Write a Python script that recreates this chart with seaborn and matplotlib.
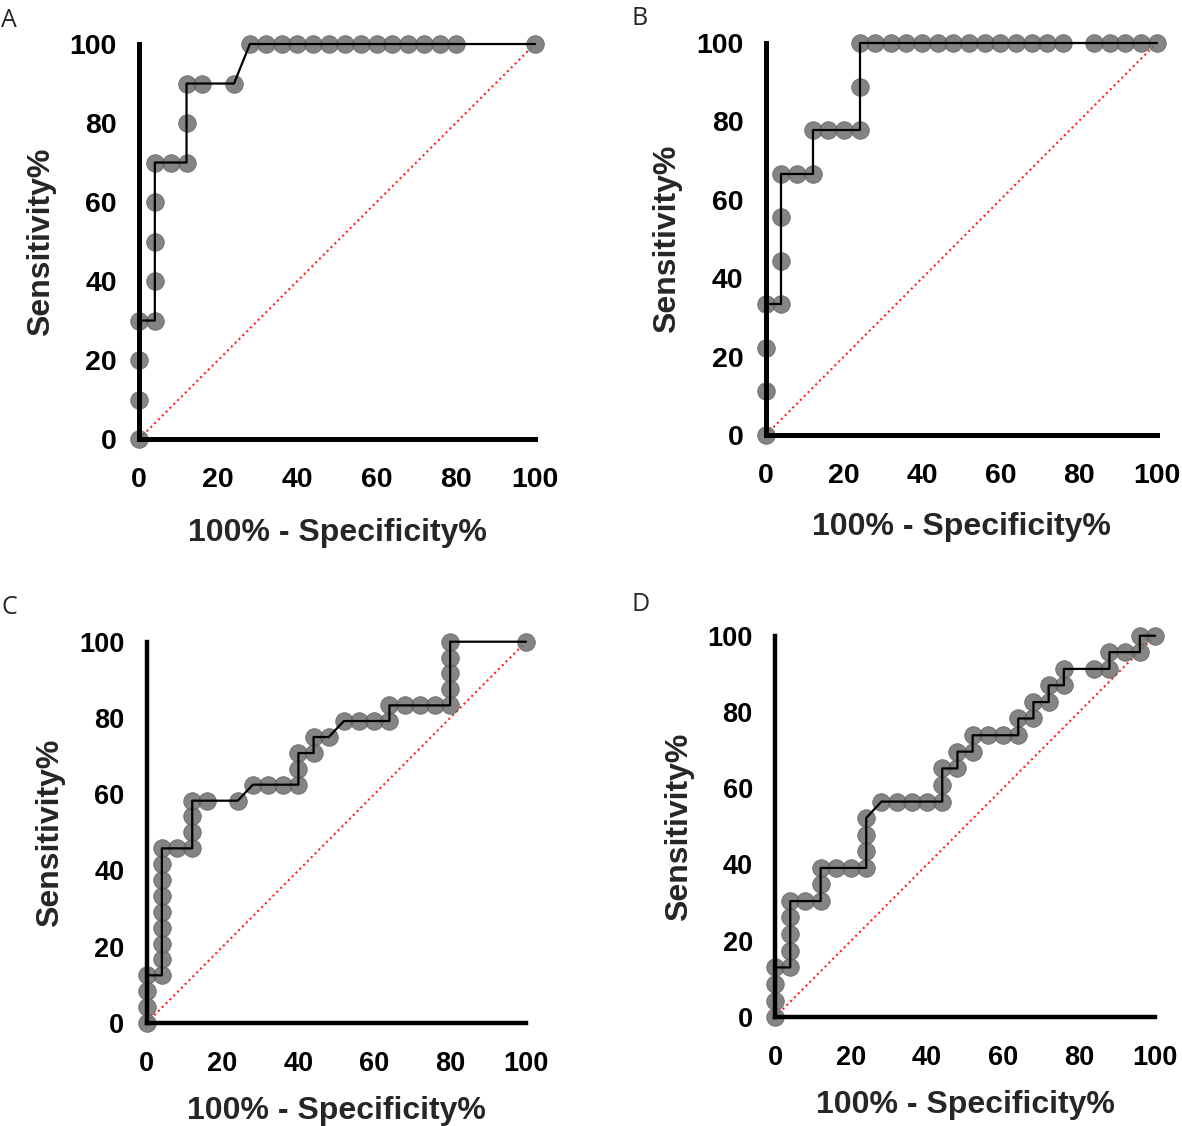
import numpy as np
import pandas as pd
import seaborn as sns
import matplotlib.pyplot as plt

sns.set_style("white")
plt.rcParams['font.family'] = ['Liberation Sans', 'DejaVu Sans']

# ROC points (100% - Specificity%, Sensitivity%)
a_x = [0, 0, 0, 0, 4, 4, 4, 4, 4, 8, 12, 12, 12, 16, 24,
       28, 32, 36, 40, 44, 48, 52, 56, 60, 64, 68, 72, 76, 80, 100]
a_y = [0, 10, 20, 30, 30, 40, 50, 60, 70, 70, 70, 80, 90, 90, 90,
       100, 100, 100, 100, 100, 100, 100, 100, 100, 100, 100, 100, 100, 100, 100]

b_x = [0, 0, 0, 0, 4, 4, 4, 4, 8, 12, 12, 16, 20, 24, 24, 24,
       28, 32, 36, 40, 44, 48, 52, 56, 60, 64, 68, 72, 76, 84, 88, 92, 96, 100]
b_y = [0, 11.1, 22.2, 33.3, 33.3, 44.4, 55.6, 66.7, 66.7, 66.7, 77.8, 77.8, 77.8, 77.8, 88.9, 100,
       100, 100, 100, 100, 100, 100, 100, 100, 100, 100, 100, 100, 100, 100, 100, 100, 100, 100]

c_x = [0, 0, 0, 0, 4, 4, 4, 4, 4, 4, 4, 4, 4, 8, 12, 12, 12, 12, 16, 24,
       28, 32, 36, 40, 40, 40, 44, 44, 48, 52, 56, 60, 64, 64, 68, 72, 76, 80,
       80, 80, 80, 80, 100]
c_y = [0, 4.2, 8.3, 12.5, 12.5, 16.7, 20.8, 25.0, 29.2, 33.3, 37.5, 41.7, 45.8, 45.8, 45.8, 50.0, 54.2, 58.3, 58.3, 58.3,
       62.5, 62.5, 62.5, 62.5, 66.7, 70.8, 70.8, 75.0, 75.0, 79.2, 79.2, 79.2, 79.2, 83.3, 83.3, 83.3, 83.3, 83.3,
       87.5, 91.7, 95.8, 100, 100]

d_x = [0, 0, 0, 0, 4, 4, 4, 4, 4, 8, 12, 12, 12, 16, 20, 24, 24, 24, 24,
       28, 32, 36, 40, 44, 44, 44, 48, 48, 52, 52, 56, 60, 64, 64, 68, 68,
       72, 72, 76, 76, 84, 88, 88, 92, 96, 96, 100]
d_y = [0, 4.3, 8.7, 13.0, 13.0, 17.4, 21.7, 26.1, 30.4, 30.4, 30.4, 34.8, 39.1, 39.1, 39.1, 39.1, 43.5, 47.8, 52.2,
       56.5, 56.5, 56.5, 56.5, 56.5, 60.9, 65.2, 65.2, 69.6, 69.6, 73.9, 73.9, 73.9, 73.9, 78.3, 78.3, 82.6,
       82.6, 87.0, 87.0, 91.3, 91.3, 91.3, 95.7, 95.7, 95.7, 100, 100]

panels = [
    ("A", a_x, a_y, [0.1176, 0.6101, 0.3350, 0.3508], 20.5, 3.6, 18),
    ("B", b_x, b_y, [0.6478, 0.6137, 0.3308, 0.3481], 20.5, 3.6, 17),
    ("C", c_x, c_y, [0.1241, 0.0915, 0.3209, 0.3386], 19.5, 3.2, 14),
    ("D", d_x, d_y, [0.6557, 0.0968, 0.3215, 0.3386], 19.5, 3.2, 14),
]
letter_pos = {"A": (0.001, 0.993), "B": (0.534, 0.995), "C": (0.001, 0.472), "D": (0.534, 0.474)}
ticks = [0, 20, 40, 60, 80, 100]

fig = plt.figure(figsize=(11.82, 11.26), dpi=100)

for name, xs, ys, rect, fs, lw, xpad in panels:
    ax = fig.add_axes(rect)
    df = pd.DataFrame({"fpr": xs, "tpr": ys})
    ax.plot([0, 100], [0, 100], color="#ff2020", ls=(0, (1, 1.6)), lw=1.5, zorder=1, clip_on=False)
    sns.scatterplot(data=df, x="fpr", y="tpr", ax=ax, s=160, color="#6e6e6e", alpha=0.85,
                    edgecolor="#5e5e5e", linewidth=0.6, zorder=2, clip_on=False, legend=False)
    sns.lineplot(data=df, x="fpr", y="tpr", ax=ax, sort=False, estimator=None, color="black",
                 lw=1.6, zorder=3, clip_on=False)
    ax.set_xlim(0, 100)
    ax.set_ylim(0, 100)
    ax.set_xticks(ticks)
    ax.set_yticks(ticks)
    for s in ["top", "right"]:
        ax.spines[s].set_visible(False)
    for s in ["left", "bottom"]:
        ax.spines[s].set_linewidth(lw)
        ax.spines[s].set_color("black")
        ax.spines[s].set_capstyle("projecting")
    ax.tick_params(direction="out", length=10, width=lw, colors="black", labelsize=fs)
    ax.tick_params(axis="x", pad=10)
    ax.tick_params(axis="y", pad=6)
    for lab in ax.get_xticklabels() + ax.get_yticklabels():
        lab.set_fontweight("bold")
    ax.set_xlabel("100% - Specificity%", fontsize=23, fontweight="bold", labelpad=xpad)
    ax.set_ylabel("Sensitivity%", fontsize=23, fontweight="bold", labelpad=10)
    ax.grid(False)
    lx, ly = letter_pos[name]
    fig.text(lx, ly, name, fontsize=18, family=["Open Sans", "DejaVu Sans"], va="top", ha="left")

fig.savefig("out.png", dpi=100)
